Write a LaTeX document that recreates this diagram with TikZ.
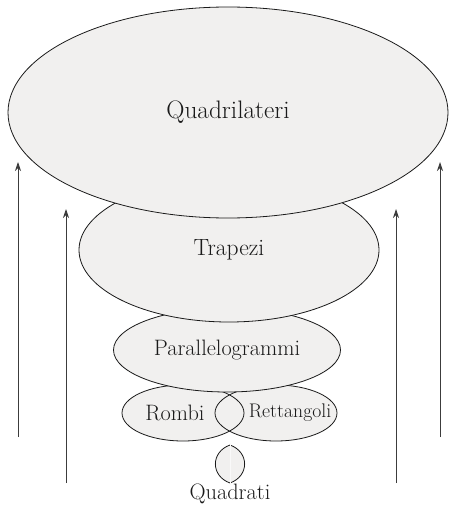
\documentclass[tikz,border=0pt]{standalone}
\usetikzlibrary{shapes.geometric,arrows.meta}
\definecolor{setfill}{HTML}{F1F0EF}
\definecolor{ink}{HTML}{1A1A1A}
\begin{document}
\begin{tikzpicture}[x=1pt,y=-1pt,
  setshape/.style={ellipse, fill=setfill, draw=ink, line width=0.8pt, inner sep=0pt},
  setline/.style={ellipse, draw=ink, line width=0.8pt, inner sep=0pt},
  bigtext/.style={text=ink, font=\fontsize{25.3}{27}\selectfont},
  trapfont/.style={text=ink, font=\fontsize{23.5}{26}\selectfont},
  midtext/.style={text=ink, font=\fontsize{22.3}{25}\selectfont},
  smalltext/.style={text=ink, font=\fontsize{19.7}{22}\selectfont},
  uparrow/.style={draw=ink!85, line width=0.9pt, -{Stealth[length=9pt,width=6pt]}}]
\useasboundingbox (0,0) rectangle (449,505);
% Quadrati lens
\coordinate (qtop) at (230,445);
\coordinate (qbot) at (230,483);
\filldraw[fill=setfill, draw=ink, line width=0.8pt]
  (qtop) .. controls (210.5,452) and (210.5,476) .. (qbot)
         .. controls (249.5,476) and (249.5,452) .. (qtop) -- cycle;
\draw[white!60!setfill, line width=0.4pt] ([yshift=2pt]qtop) -- ([yshift=-2pt]qbot);
\node[midtext] (quadrati) at (230,494) {Quadrati};
% Rombi and Rettangoli
\node[setshape, draw=none, minimum width=122pt, minimum height=56pt] (rombi) at (183,413) {};
\node[setshape, draw=none, minimum width=122pt, minimum height=56pt] (rett) at (276,413) {};
\node[setline, minimum width=122pt, minimum height=56pt] (rombiline) at (rombi.center) {};
\node[setline, minimum width=122pt, minimum height=56pt] (rettline) at (rett.center) {};
\node[midtext] (rombilabel) at (175,413) {Rombi};
\node[smalltext] (rettlabel) at (290,413) {Rettangoli};
% Parallelogrammi
\node[setshape, minimum width=227pt, minimum height=84pt, midtext] (par) at (227,350) {Parallelogrammi};
% Trapezi
\node[setshape, minimum width=300pt, minimum height=144pt, trapfont] (trap) at (229,250) {Trapezi};
% Quadrilateri
\node[setshape, minimum width=440pt, minimum height=211pt, bigtext] (quad) at (228,112.5) {Quadrilateri};
% arrows
\coordinate (a1s) at (18,437);  \coordinate (a1e) at (18,162);
\coordinate (a2s) at (66,483);  \coordinate (a2e) at (66,209);
\coordinate (a3s) at (396,483); \coordinate (a3e) at (396,209);
\coordinate (a4s) at (440,437); \coordinate (a4e) at (440,162);
\draw[uparrow] (a1s) -- (a1e);
\draw[uparrow] (a2s) -- (a2e);
\draw[uparrow] (a3s) -- (a3e);
\draw[uparrow] (a4s) -- (a4e);
\end{tikzpicture}
\end{document}
